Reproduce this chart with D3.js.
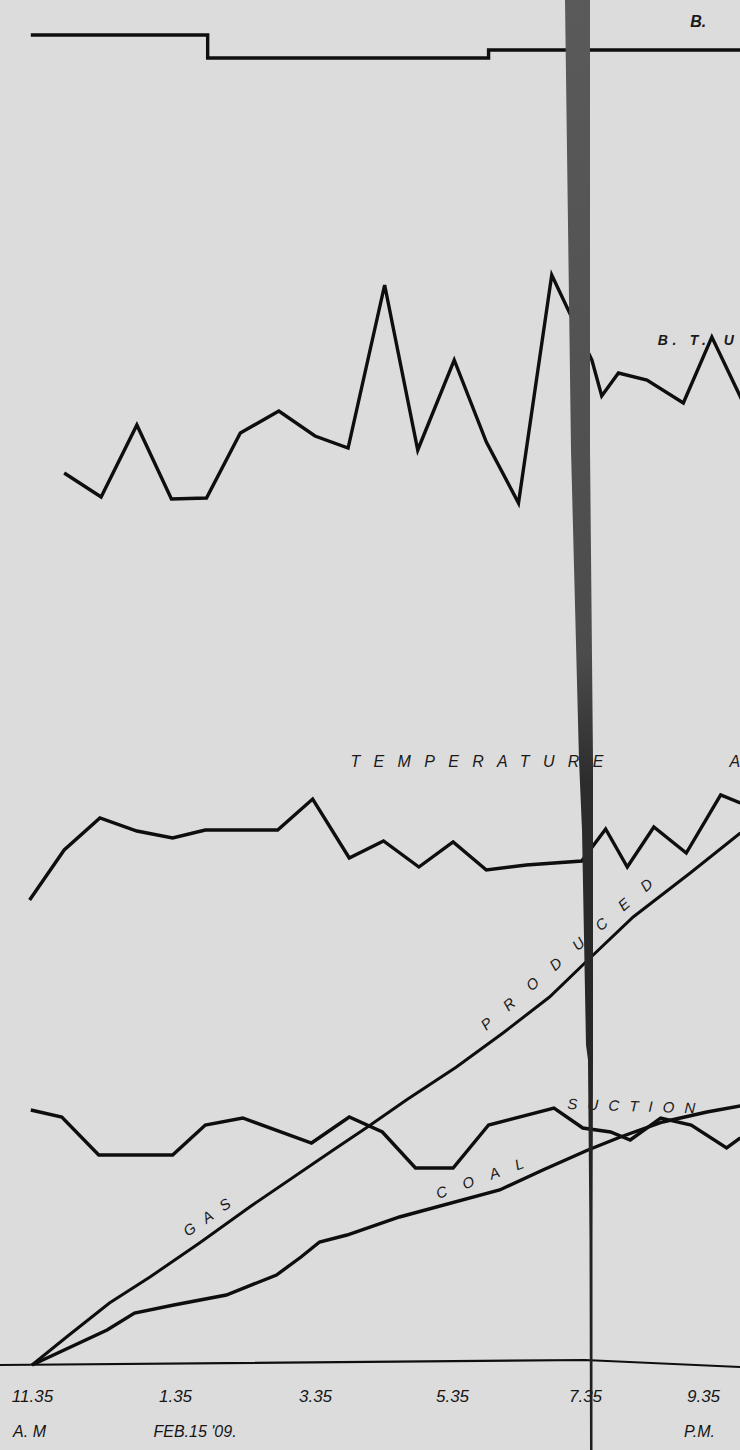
<!DOCTYPE html>
<html>
<head>
<meta charset="utf-8">
<script src="https://cdnjs.cloudflare.com/ajax/libs/d3/7.8.5/d3.min.js"></script>
<style>
  body { margin: 0; background: #dcdcdc; }
  svg { display: block; }
</style>
</head>
<body>
<svg></svg>
<script>
// feb 15 1909 - readings by time of day, in chart units above the base line

const tickTimes = ["11:35", "13:35", "15:35", "17:35", "19:35", "21:35"]
const tickLabels = ["11.35", "1.35", "3.35", "5.35", "7.35", "9.35"]
const tickSubLabels = ["A. M", "FEB.15 '09.", "", "", "", "P.M."]

// "B." step line at the top
const bTimes = ["11:34", "14:03", "18:08", "22:18"]
const bValues = [133.0, 130.7, 131.5, 131.6]

const btuTimes = ["12:02", "12:33", "13:03", "13:32", "14:02", "14:31", "15:04", "15:35", "16:04", "16:36", "17:05",
                  "17:37", "18:06", "18:35", "19:05", "19:42", "19:52", "20:09", "20:38", "21:15", "21:44", "22:18"]
const btuValues = [89.2, 86.8, 94.0, 86.6, 86.7, 93.2, 95.4, 92.9, 91.7, 108.0, 91.5,
                   100.5, 92.3, 86.2, 109.0, 100.5, 96.9, 99.2, 98.5, 96.2, 102.8, 95.8]

const tempTimes = ["11:33", "12:02", "12:32", "13:03", "13:33", "14:01", "15:03", "15:33", "16:05", "16:35", "17:06",
                   "17:36", "18:06", "18:42", "19:32", "19:56", "20:18", "20:45", "21:18", "21:53", "22:13"]
const tempValues = [46.5, 51.5, 54.7, 53.4, 52.7, 53.5, 53.5, 56.6, 50.7, 52.4, 49.8,
                    52.3, 49.5, 50.0, 50.4, 53.6, 49.8, 53.8, 51.2, 57.0, 56.2]

const gasTimes = ["11:35", "12:04", "12:40", "13:14", "13:56", "14:39", "15:51", "16:21", "16:55", "17:39", "18:21",
                  "19:03", "19:38", "20:24", "21:22", "22:13"]
const gasValues = [0, 2.8, 6.2, 8.8, 12.2, 15.8, 21.5, 23.8, 26.5, 29.8, 33.2,
                   36.8, 40.5, 44.8, 49.2, 53.2]

const coalTimes = ["11:35", "12:38", "13:01", "13:34", "14:19", "15:02", "15:23", "15:39", "16:03", "16:49", "18:18",
                   "18:57", "19:38", "20:11", "20:54", "21:39", "22:13"]
const coalValues = [0, 3.5, 5.2, 6.0, 7.0, 9.0, 10.8, 12.3, 13.0, 14.8, 17.5,
                    19.5, 21.5, 22.8, 24.3, 25.3, 25.9]

const suctionTimes = ["11:34", "12:00", "12:31", "13:33", "14:01", "14:33", "15:32", "16:05", "16:34", "17:03",
                      "17:36", "18:08", "19:07", "19:33", "20:01", "20:21", "20:52", "21:23", "21:59", "22:13"]
const suctionValues = [25.5, 24.8, 21.0, 21.0, 24.0, 24.7, 22.2, 24.8, 23.3, 19.7,
                       19.7, 24.0, 25.7, 23.7, 23.3, 22.5, 24.7, 24.0, 21.7, 22.7]

const baseTimes = ["11:08", "19:35", "22:13"]
const baseValues = [0, 0.5, -0.2]


let width = 740
let height = 1450

let xScale
let yScale
let parseTime = d3.timeParse("%H:%M")

let svg = d3.select("svg")

let zip = (times, values) => times.map((t, i) => ({ t: parseTime(t), v: values[i] }))

let drawCanvas = () => {
    svg.attr("width", width)
    svg.attr("height", height)
    svg.append("rect").attr("width", width).attr("height", height).attr("fill", "#dcdcdc")
    svg.append("clipPath").attr("id", "clip")
        .append("rect").attr("width", width).attr("height", height)
}

let generateScales = () => {
    // hand lettered time marks are not evenly spaced, so piecewise
    xScale = d3.scaleTime()
                .domain(tickTimes.map(parseTime))
                .range([32, 175, 315, 452, 585, 703])

    yScale = d3.scaleLinear()
                .domain([0, 136.5])
                .range([1365, 0])
}

let drawLines = () => {
    let line = d3.line()
                .x(d => xScale(d.t))
                .y(d => yScale(d.v))

    let series = [
        { data: zip(baseTimes, baseValues), w: 2.2, curve: d3.curveLinear },
        { data: zip(bTimes, bValues), w: 3.4, curve: d3.curveStepAfter },
        { data: zip(btuTimes, btuValues), w: 3.4, curve: d3.curveLinear },
        { data: zip(tempTimes, tempValues), w: 3.4, curve: d3.curveLinear },
        { data: zip(gasTimes, gasValues), w: 3, curve: d3.curveLinear },
        { data: zip(coalTimes, coalValues), w: 3.4, curve: d3.curveLinear },
        { data: zip(suctionTimes, suctionValues), w: 3.4, curve: d3.curveLinear }
    ]

    let g = svg.append("g").attr("clip-path", "url(#clip)")

    g.selectAll("path")
        .data(series)
        .enter()
        .append("path")
        .attr("d", s => line.curve(s.curve)(s.data))
        .attr("fill", "none")
        .attr("stroke", "#0e0e0e")
        .attr("stroke-width", s => s.w)
        .attr("stroke-linejoin", "miter")
}

let drawLabels = () => {
    let labels = [
        { text: "B.", t: "21:22", v: 133.8, size: 16, bold: true, len: null, angle: 0 },
        { text: "B. T.", t: "20:49", v: 102.0, size: 14, bold: true, len: 48, angle: 0 },
        { text: "U", t: "21:56", v: 102.0, size: 14, bold: true, len: null, angle: 0 },
        { text: "TEMPERATURE", t: "16:06", v: 59.8, size: 16, bold: false, len: 253, angle: 0 },
        { text: "A", t: "22:02", v: 59.8, size: 16, bold: false, len: null, angle: 0 },
        { text: "PRODUCED", t: "18:06", v: 33.4, size: 15, bold: false, len: 222, angle: -41 },
        { text: "GAS", t: "13:46", v: 12.8, size: 15, bold: false, len: 54, angle: -35 },
        { text: "COAL", t: "17:23", v: 16.6, size: 15, bold: false, len: 92, angle: -20 },
        { text: "SUCTION", t: "19:19", v: 25.6, size: 15, bold: false, len: 128, angle: 2 }
    ]

    svg.append("g")
        .selectAll("text")
        .data(labels)
        .enter()
        .append("text")
        .attr("transform", d => "translate(" + xScale(parseTime(d.t)) + "," + yScale(d.v) + ") rotate(" + d.angle + ")")
        .attr("textLength", d => d.len)
        .attr("lengthAdjust", "spacing")
        .attr("font-family", "'Liberation Sans', Arial, sans-serif")
        .attr("font-style", "italic")
        .attr("font-weight", d => d.bold ? "bold" : "normal")
        .attr("font-size", d => d.size)
        .attr("fill", "#1a1a1a")
        .text(d => d.text)
}

let generateAxes = () => {
    let ticks = tickTimes.map(parseTime)

    let xAxis = d3.axisBottom(xScale)
                    .tickValues(ticks)
                    .tickFormat((d, i) => tickLabels[i])
                    .tickSize(0)
                    .tickPadding(25)

    let subAxis = d3.axisBottom(xScale)
                    .tickValues(ticks)
                    .tickFormat((d, i) => tickSubLabels[i])
                    .tickSize(0)
                    .tickPadding(61)

    svg.append("g")
        .attr("id", "x-axis")
        .attr("transform", "translate(0, " + yScale(0) + ")")
        .call(xAxis)
        .call(g => g.select(".domain").remove())
        .selectAll("text")
        .style("font-size", "17px")
        .style("font-style", "italic")
        .style("font-family", "'Liberation Sans', Arial, sans-serif")
        .attr("fill", "#151515")

    let subDx = [-3, -22, 0, 0, 0, -4]
    svg.append("g")
        .attr("id", "x-sub")
        .attr("transform", "translate(0, " + yScale(0) + ")")
        .call(subAxis)
        .call(g => g.select(".domain").remove())
        .selectAll("text")
        .attr("text-anchor", (d, i) => i == 1 ? "start" : "middle")
        .attr("dx", (d, i) => subDx[i])
        .style("font-size", "16px")
        .style("font-style", "italic")
        .style("font-family", "'Liberation Sans', Arial, sans-serif")
        .attr("fill", "#151515")
}

// the dark fold running down the sheet at 7.35
let drawFold = () => {
    let edge = [[0, -20, 5], [450, -14, 5], [760, -6, 8], [830, -3, 8], [1045, 1, 8],
                [1060, 3, 8], [1240, 4.5, 7.5], [1450, 5, 7.5]]
    let x0 = xScale(parseTime("19:35"))

    let grad = svg.append("defs").append("linearGradient")
        .attr("id", "fold")
        .attr("gradientUnits", "userSpaceOnUse")
        .attr("x1", 0).attr("y1", 0).attr("x2", 0).attr("y2", height)
    grad.append("stop").attr("offset", "0").attr("stop-color", "#5a5a5a")
    grad.append("stop").attr("offset", "0.45").attr("stop-color", "#4c4c4c")
    grad.append("stop").attr("offset", "0.54").attr("stop-color", "#2c2c2c")
    grad.append("stop").attr("offset", "1").attr("stop-color", "#1e1e1e")

    let pts = edge.map(e => [x0 + e[1], e[0]])
        .concat(edge.slice().reverse().map(e => [x0 + e[2], e[0]]))

    svg.append("path")
        .attr("d", d3.line()(pts) + "Z")
        .attr("fill", "url(#fold)")
}


drawCanvas()
generateScales()
drawLines()
drawLabels()
generateAxes()
drawFold()
</script>
</body>
</html>
